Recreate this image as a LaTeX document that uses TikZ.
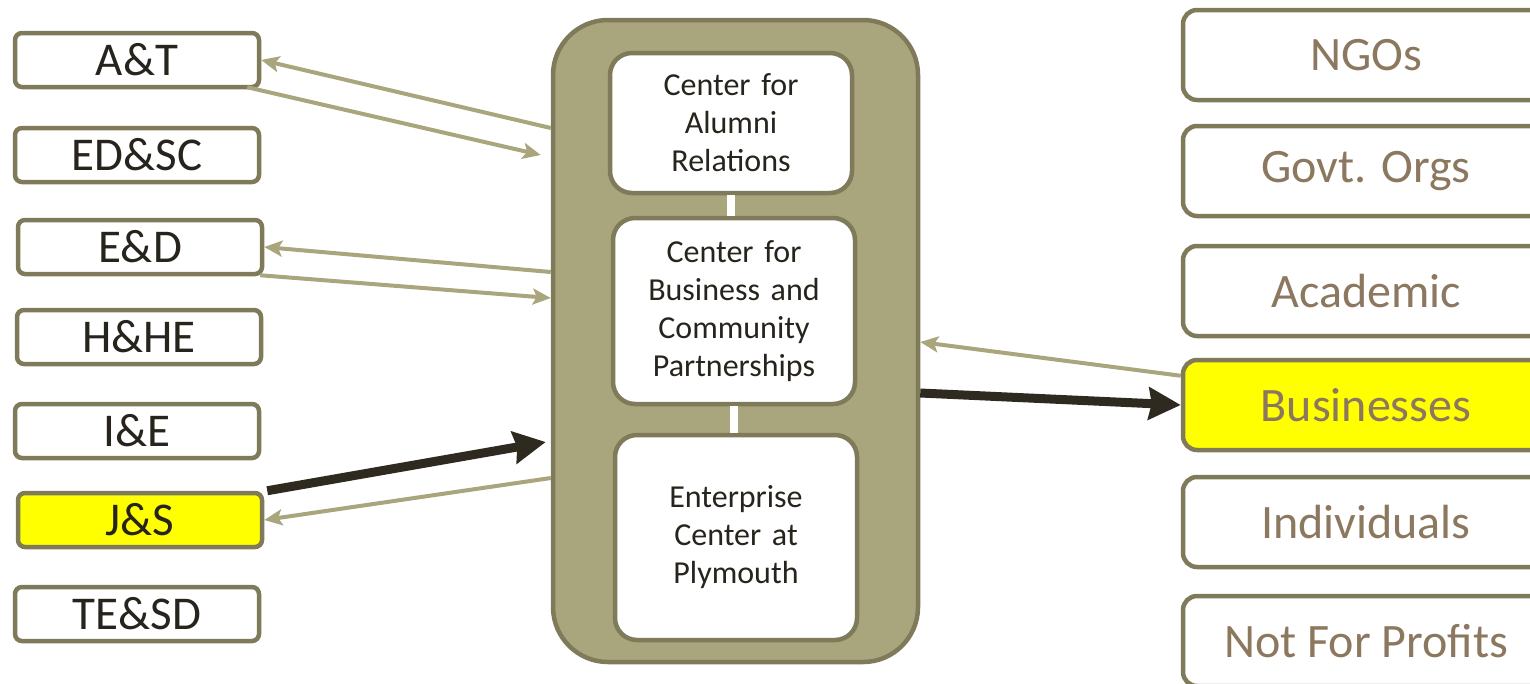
\documentclass[tikz,border=0pt]{standalone}
\usepackage{fontspec}
\setmainfont{Carlito}
\usetikzlibrary{arrows.meta,calc}
\definecolor{tanfill}{RGB}{169,165,124}
\definecolor{edgec}{RGB}{127,122,90}
\definecolor{darkarrow}{RGB}{46,42,32}
\definecolor{txt}{RGB}{38,36,28}
\definecolor{rtxt}{RGB}{140,119,95}
\definecolor{hl}{RGB}{255,255,0}
\begin{document}
\begin{tikzpicture}[x=1pt,y=-1pt,
  lbox/.style={draw=edgec,line width=4.5pt,fill=white,rounded corners=7pt,minimum width=244pt,minimum height=54pt,inner sep=0pt,font=\fontsize{47}{52}\selectfont,text=txt},
  rbox/.style={draw=edgec,line width=4.5pt,fill=white,rounded corners=14pt,minimum width=366pt,minimum height=90pt,inner sep=0pt,font=\fontsize{48}{52}\selectfont,text=rtxt},
  cbox/.style={draw=edgec,line width=4.5pt,fill=white,rounded corners=22pt,minimum width=242pt,inner sep=0pt,text width=234pt,align=center,font=\fontsize{32}{38}\selectfont,text=txt},
  tanarrow/.style={draw=tanfill,line width=4pt,-{Stealth[length=18pt,width=16pt,inset=4pt]}},
  darkarr/.style={draw=darkarrow,line width=9pt,-{Stealth[length=32pt,width=32pt,inset=3pt]}},
  hlt/.style={fill=hl}]
\useasboundingbox (0,0) rectangle (1530,683);
% centre container
\node[draw=edgec,fill=tanfill,line width=4.5pt,rounded corners=55pt,minimum width=365pt,minimum height=642pt,inner sep=0pt] (cont) at (735.5,341) {};
\node[cbox,minimum height=140pt] (alumni) at (731,123) {Center for\\Alumni\\Relations};
\node[cbox,minimum height=186pt] (bcp) at (734,311) {Center for\\Business and\\Community\\Partnerships};
\node[cbox,minimum height=205pt] (ecp) at (736,537.5) {Enterprise\\Center at\\Plymouth};
\draw[white,line width=8pt] (alumni.south) -- (alumni.south |- bcp.north);
\draw[white,line width=8pt] (bcp.south) -- (bcp.south |- ecp.north);
% left boxes
\node[lbox] (AT) at (137,60) {A\&T};
\node[lbox] (EDSC) at (137,155) {ED\&SC};
\node[lbox] (ED) at (140,247) {E\&D};
\node[lbox] (HHE) at (139,337) {H\&HE};
\node[lbox] (IE) at (137,431) {I\&E};
\node[lbox,hlt] (JS) at (140,520) {J\&S};
\node[lbox] (TESD) at (137,614) {TE\&SD};
% right boxes
\node[rbox] (NGO) at (1366,55) {NGOs};
\node[rbox] (GOV) at (1366,171) {Govt. Orgs};
\node[rbox] (ACA) at (1366,291) {Academic};
\node[rbox,hlt] (BUS) at (1366,405) {Businesses};
\node[rbox] (IND) at (1366,522) {Individuals};
\node[rbox] (NFP) at (1366,641) {Not For Profits};
% connector end points on the container
\coordinate (c1) at (cont.west |- 0,128);
\coordinate (c2) at ($(cont.west |- 0,155)+(-10,0)$);
\coordinate (c3) at (cont.west |- 0,272);
\coordinate (c4) at (cont.west |- 0,298);
\coordinate (c5) at ($(cont.west |- 0,442)+(-5,0)$);
\coordinate (c6) at (cont.west |- 0,478);
\coordinate (c7) at (cont.east |- 0,342);
\coordinate (c8) at (cont.east |- 0,393);
% connectors
\draw[tanarrow] (c1) -- (AT.east);
\draw[tanarrow] ($(AT.south east)+(-14,-2)$) -- (c2);
\draw[tanarrow] (c3) -- (ED.east);
\draw[tanarrow] ($(ED.south east)+(-4,-1)$) -- (c4);
\draw[darkarr] ($(JS.north east)+(3,0)$) -- (c5);
\draw[tanarrow] (c6) -- (JS.east);
\draw[tanarrow] ($(BUS.north west)+(0,18)$) -- (c7);
\draw[darkarr] (c8) -- (BUS.west);
\end{tikzpicture}
\end{document}
